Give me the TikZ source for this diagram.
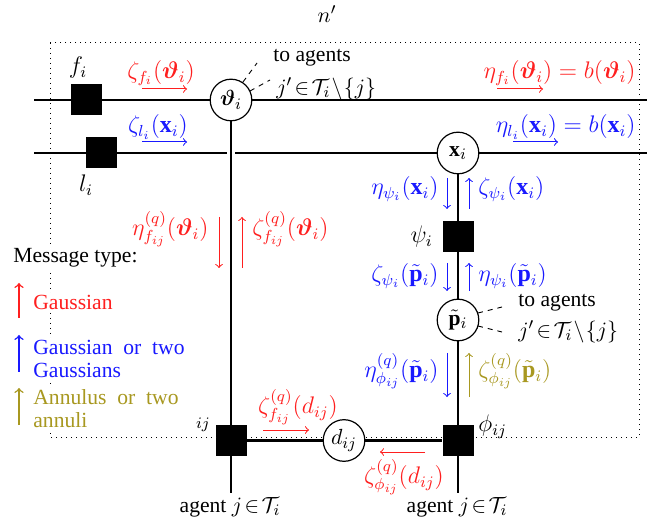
\documentclass[tikz,border=0pt]{standalone}
\usepackage{fontspec}
\setmainfont{Liberation Serif}
\usepackage{bm}
\definecolor{mred}{rgb}{1,0.12,0.12}
\definecolor{mblue}{rgb}{0.1,0.1,1}
\definecolor{molive}{RGB}{168,152,32}
\pgfdeclarelayer{bg}
\pgfsetlayers{bg,main}
\begin{document}
\begin{tikzpicture}[x=0.5pt,y=-0.5pt,
  font=\fontsize{10.8}{11.5}\selectfont,
  fac/.style={fill=black, minimum size=15.5pt, inner sep=0pt},
  var/.style={circle, draw, fill=white, minimum size=20.8pt, inner sep=0pt, line width=0.6pt},
  wire/.style={line width=1.15pt},
  msg/.style={->, line width=0.5pt},
  lgd/.style={->, line width=0.75pt},
  lbl/.style={inner sep=1pt},
  mlbl/.style={inner sep=1pt, font=\fontsize{12}{13}\selectfont},
  boxline/.style={dotted, line width=0.5pt},
  dashline/.style={dashed, dash pattern=on 2.5pt off 2.5pt, line width=0.45pt}
]
\useasboundingbox (0,0) rectangle (658,523);
\node[lbl] (np) at (327,14) {$n'$};

% variable and factor nodes
\node[var] (th) at (231,100) {$\bm{\vartheta}_i$};
\node[var] (x) at (458,153) {$\mathbf{x}_i$};
\node[fac] (fi) at (86.5,100) {};
\node[fac] (li) at (101.5,153) {};
\node[fac] (psi) at (458,236.5) {};
\node[var] (p) at (458,320) {$\tilde{\mathbf{p}}_i$};
\node[fac] (fij) at (231,440.5) {};
\node[fac] (phi) at (458,440.5) {};
\node[var] (d) at (344,440.5) {$d_{ij}$};
\coordinate (L1a) at (34,100);
\coordinate (L1b) at (647,100);
\coordinate (L2a) at (34,153);
\coordinate (L2b) at (647,153);
\coordinate (b1) at (231,493);
\coordinate (b2) at (458,493);
\coordinate (gA) at (231,144);
\coordinate (gB) at (231,162);

\begin{pgfonlayer}{bg}
  \draw[boxline] (50,43) rectangle (639,437);
  \draw[wire] (L1a) -- (L1b);
  \draw[wire] (L2a) -- (L2b);
  \draw[white, line width=4pt] (gA) -- (gB);
  \draw[wire] (th) -- (fij) -- (b1);
  \draw[wire] (x) -- (psi) -- (p) -- (phi) -- (b2);
  \draw[wire] (fij) -- (d) -- (phi);
\end{pgfonlayer}

% node labels
\node[mlbl] (fil) at (78,68) {$f_i$};
\node[mlbl] (lil) at (86,185) {$l_i$};
\node[mlbl, anchor=east] (psil) at (435,237) {$\psi_i$};
\node[mlbl, anchor=west] (phil) at (476,427) {$\phi_{ij}$};
\node[lbl] (ijl) at (203,425) {$\scriptstyle ij$};
\node[lbl] (ag1) at (230,507) {agent $j\!\in\!\mathcal{T}_i$};
\node[lbl] (ag2) at (457,507) {agent $j\!\in\!\mathcal{T}_i$};

% "to agents" annotations
\node[lbl, anchor=west] (ta1) at (271,58) {to agents};
\node[lbl, anchor=west] (tj1) at (274,89) {$j'\!\in\!\mathcal{T}_i\!\setminus\!\{j\}$};
\draw[dashline] (243,82) -- (257,63);
\draw[dashline] (250,91) -- (270,80);
\node[lbl, anchor=west] (ta2) at (516,303) {to agents};
\node[lbl, anchor=west] (tj2) at (516,332) {$j'\!\in\!\mathcal{T}_i\!\setminus\!\{j\}$};
\draw[dashline] (478,313) -- (502,307);
\draw[dashline] (478,326) -- (502,332);

% top messages
\node[mlbl, text=mred] (m1) at (161,73) {$\zeta_{f_i}(\bm{\vartheta}_i)$};
\draw[msg, mred] (142,89) -- (187,89);
\node[mlbl, text=mblue] (m2) at (158,127) {$\zeta_{l_i}(\mathbf{x}_i)$};
\draw[msg, mblue] (142,142) -- (187,142);
\node[mlbl, text=mred, anchor=east] (m3) at (638,73) {$\eta_{f_i}(\bm{\vartheta}_i)=b(\bm{\vartheta}_i)$};
\draw[msg, mred] (497,89) -- (543,89);
\node[mlbl, text=mblue, anchor=east] (m4) at (638,127) {$\eta_{l_i}(\mathbf{x}_i)=b(\mathbf{x}_i)$};
\draw[msg, mblue] (513,142) -- (558,142);

% left vertical messages
\node[mlbl, text=mred, anchor=east] (m5) at (211,229) {$\eta^{(q)}_{f_{ij}}(\bm{\vartheta}_i)$};
\draw[msg, mred] (219,217) -- (219,268);
\draw[msg, mred] (242,268) -- (242,217);
\node[mlbl, text=mred, anchor=west] (m6) at (250,229) {$\zeta^{(q)}_{f_{ij}}(\bm{\vartheta}_i)$};

% right vertical messages
\node[mlbl, text=mblue, anchor=east] (m7) at (441,189) {$\eta_{\psi_i}(\mathbf{x}_i)$};
\draw[msg, mblue] (447,178) -- (447,209);
\draw[msg, mblue] (469,209) -- (469,178);
\node[mlbl, text=mblue, anchor=west] (m8) at (476,189) {$\zeta_{\psi_i}(\mathbf{x}_i)$};
\node[mlbl, text=mblue, anchor=east] (m9) at (441,276) {$\zeta_{\psi_i}(\tilde{\mathbf{p}}_i)$};
\draw[msg, mblue] (447,263) -- (447,291);
\draw[msg, mblue] (469,291) -- (469,263);
\node[mlbl, text=mblue, anchor=west] (m10) at (476,276) {$\eta_{\psi_i}(\tilde{\mathbf{p}}_i)$};
\node[mlbl, text=mblue, anchor=east] (m11) at (441,371) {$\eta^{(q)}_{\phi_{ij}}(\tilde{\mathbf{p}}_i)$};
\draw[msg, mblue] (447,353) -- (447,397);
\draw[msg, molive] (469,397) -- (469,353);
\node[mlbl, text=molive, anchor=west] (m12) at (476,371) {$\zeta^{(q)}_{\phi_{ij}}(\tilde{\mathbf{p}}_i)$};

% bottom messages
\node[mlbl, text=mred] (m13) at (298,407) {$\zeta^{(q)}_{f_{ij}}(d_{ij})$};
\draw[msg, mred] (263,430) -- (309,430);
\node[mlbl, text=mred] (m14) at (404,477) {$\zeta^{(q)}_{\phi_{ij}}(d_{ij})$};
\draw[msg, mred] (425,452) -- (380,452);

% legend
\node[lbl, anchor=west, fill=white] (lg0) at (11,258) {Message type:};
\node[lbl, anchor=west, fill=white, text=mred] (lg1) at (31,302) {Gaussian};
\draw[lgd, mred] (19,318) -- (19,283);
\node[lbl, anchor=west, fill=white, text=mblue, align=left] (lg2) at (31,359) {Gaussian\ \ or\ \ two\\Gaussians};
\draw[lgd, mblue] (19,372) -- (19,335);
\node[lbl, anchor=west, fill=white, text=molive, align=left] (lg3) at (31,409) {Annulus\ \ or\ \ two\\annuli};
\draw[lgd, molive] (19,425) -- (19,388);
\end{tikzpicture}
\end{document}
